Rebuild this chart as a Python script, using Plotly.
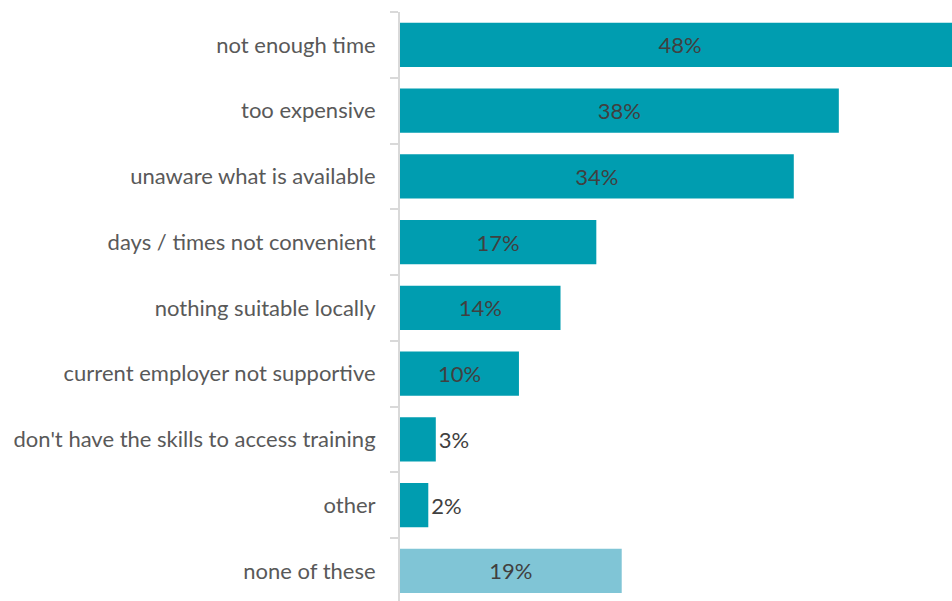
import plotly.graph_objects as go

categories = [
    "not enough time",
    "too expensive",
    "unaware what is available",
    "days / times not convenient",
    "nothing suitable locally",
    "current employer not supportive",
    "don't have the skills to access training",
    "other",
    "none of these",
]
values = [48.5, 38.0, 34.1, 17.0, 13.9, 10.3, 3.1, 2.45, 19.2]
labels = ["48%", "38%", "34%", "17%", "14%", "10%", "3%", "2%", "19%"]
colors = ["#009DB0"] * 8 + ["#80C5D6"]
text_positions = ["inside"] * 6 + ["outside", "outside", "inside"]

FONT = "Lato, Open Sans, sans-serif"

fig = go.Figure(
    go.Bar(
        x=values,
        y=categories,
        orientation="h",
        marker=dict(color=colors, line=dict(width=0)),
        text=labels,
        textposition=text_positions,
        insidetextanchor="middle",
        textfont=dict(family=FONT, size=22, color="#404040"),
        cliponaxis=True,
        hoverinfo="skip",
    )
)

fig.update_layout(
    width=952,
    height=601,
    margin=dict(l=400, r=0, t=12, b=0),
    paper_bgcolor="white",
    plot_bgcolor="white",
    bargap=0.33,
    showlegend=False,
    font=dict(family=FONT, size=22, color="#595959"),
)

fig.update_xaxes(
    range=[0, 47.8],
    visible=False,
    showgrid=False,
    zeroline=False,
)

fig.update_yaxes(
    type="category",
    categoryorder="array",
    categoryarray=categories,
    range=[8.458, -0.5],
    showline=True,
    linecolor="#D9D9D9",
    linewidth=2,
    ticks="outside",
    tickson="boundaries",
    ticklen=8,
    tickwidth=2,
    tickcolor="#D9D9D9",
    showgrid=False,
    zeroline=False,
    ticklabelstandoff=18,
    tickfont=dict(family=FONT, size=22, color="#595959"),
)

fig.write_html(
    "out.html",
    config={"displayModeBar": False, "staticPlot": True},
    post_script="document.body.style.margin='0';document.body.style.overflow='hidden';",
)
